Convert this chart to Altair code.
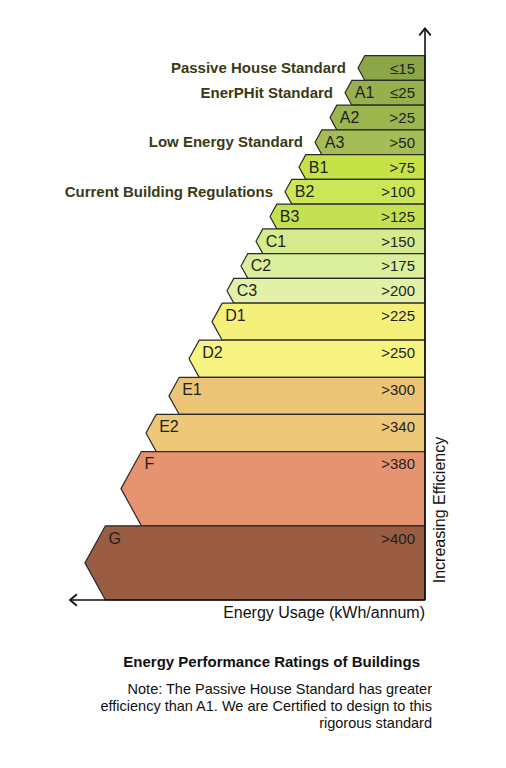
import altair as alt
import pandas as pd

# ---- data ----
bands = ["PH", "A1", "A2", "A3", "B1", "B2", "B3", "C1", "C2", "C3",
         "D1", "D2", "E1", "E2", "F", "G"]
grade_labels = ["", "A1", "A2", "A3", "B1", "B2", "B3", "C1", "C2", "C3",
                "D1", "D2", "E1", "E2", "F", "G"]
value_labels = ["≤15", "≤25", ">25", ">50", ">75", ">100", ">125", ">150",
                ">175", ">200", ">225", ">250", ">300", ">340", ">380", ">400"]
# relative band heights (row units)
band_heights = [1, 1, 1, 1, 1, 1, 1, 1, 1, 1, 1.5, 1.5, 1.5, 1.5, 3, 3]
# length of each arrow (to its tip), in axis length units
band_lengths = [67, 80, 95, 110, 126, 140, 155, 169, 184, 198,
                213, 236, 256, 279, 304, 340]
band_colors = ["#8ca548", "#97b04d", "#9cb54f", "#a4bd54", "#c6e246", "#cbe656",
               "#c5e052", "#d5eb8e", "#dbee9b", "#e3f1a8", "#f5f07a", "#f7f482",
               "#ebc575", "#ecc878", "#e5946f", "#9a5c42"]
annotations = {"PH": "Passive House Standard",
               "A1": "EnerPHit Standard",
               "A3": "Low Energy Standard",
               "B2": "Current Building Regulations"}
note_lines = ["Note: The Passive House Standard has greater",
              "efficiency than A1. We are Certified to design to this",
              "rigorous standard"]
title_text = "Energy Performance Ratings of Buildings"
x_axis_title = "Energy Usage (kWh/annum)"
y_axis_title = "Increasing Efficiency"

X_MAX = 357
Y_MAX = 23.2
W, H = 357, 574
FONT = "Liberation Sans"

# ---- build tables ----
poly_rows, lab_rows, ann_rows = [], [], []
top = 22.0
for i, b in enumerate(bands):
    h = band_heights[i]
    bottom = top - h
    mid = (top + bottom) / 2
    depth = 6.8 * h
    tip = band_lengths[i]
    body = tip - depth
    for xx, y1, y2 in [(0, top, bottom), (body, top, bottom), (tip, mid, mid)]:
        poly_rows.append({"band": b, "x": xx, "y": y1, "y2": y2})
    ly = top - 0.52
    lab_rows.append({"band": b, "value": value_labels[i], "grade": grade_labels[i],
                     "y": ly, "vx": 10, "gx": body - 3})
    if b in annotations:
        ann_rows.append({"text": annotations[b], "y": mid, "x": tip + 12})
    top = bottom

poly = pd.DataFrame(poly_rows)
labs = pd.DataFrame(lab_rows)
anns = pd.DataFrame(ann_rows)

xs = alt.Scale(domain=[0, X_MAX], reverse=True, nice=False, zero=False)
ys = alt.Scale(domain=[0, Y_MAX], nice=False, zero=False)

areas = alt.Chart(poly).mark_area(
    stroke="#2a2a2a", strokeWidth=1.2, opacity=1, fillOpacity=1
).encode(
    x=alt.X("x:Q", scale=xs, axis=None),
    y=alt.Y("y:Q", scale=ys, axis=None, stack=None),
    y2="y2:Q",
    detail="band:N",
    fill=alt.Fill("band:N", scale=alt.Scale(domain=bands, range=band_colors), legend=None),
)

vtext = alt.Chart(labs).mark_text(
    align="right", baseline="middle", font=FONT, fontSize=15, color="#1e1e1e"
).encode(
    x=alt.X("vx:Q", scale=xs, axis=None), y=alt.Y("y:Q", scale=ys, axis=None), text="value:N"
)

gtext = alt.Chart(labs).mark_text(
    align="left", baseline="middle", font=FONT, fontSize=16, color="#1e1e1e"
).encode(
    x=alt.X("gx:Q", scale=xs, axis=None), y=alt.Y("y:Q", scale=ys, axis=None), text="grade:N"
)

atext = alt.Chart(anns).mark_text(
    align="right", baseline="middle", font=FONT, fontSize=15, fontWeight="bold", color="#3a3a14"
).encode(
    x=alt.X("x:Q", scale=xs, axis=None), y=alt.Y("y:Q", scale=ys, axis=None), text="text:N"
)

axes_df = pd.DataFrame([
    {"x": 0, "x2": 0, "y": 0, "y2": 23.1},
    {"x": 0, "x2": 355, "y": 0, "y2": 0},
])
rules = alt.Chart(axes_df).mark_rule(color="#111111", strokeWidth=1.6).encode(
    x=alt.X("x:Q", scale=xs, axis=None), x2="x2:Q",
    y=alt.Y("y:Q", scale=ys, axis=None), y2="y2:Q",
)

heads_left = alt.Chart(pd.DataFrame([{"x": 355, "y": 0}])).mark_point(
    shape="M1.2,-1L0,0L1.2,1", filled=False, stroke="#111111", strokeWidth=1.8, size=130, opacity=1
).encode(x=alt.X("x:Q", scale=xs, axis=None), y=alt.Y("y:Q", scale=ys, axis=None))

heads_up = alt.Chart(pd.DataFrame([{"x": 0, "y": 23.1}])).mark_point(
    shape="M-1,1.2L0,0L1,1.2", filled=False, stroke="#111111", strokeWidth=1.8, size=130, opacity=1
).encode(x=alt.X("x:Q", scale=xs, axis=None), y=alt.Y("y:Q", scale=ys, axis=None))

xtitle = alt.Chart(pd.DataFrame([{"t": x_axis_title}])).mark_text(
    align="right", baseline="middle", font=FONT, fontSize=16, color="#111111"
).encode(x=alt.value(W), y=alt.value(H + 13), text="t:N")

ytitle = alt.Chart(pd.DataFrame([{"t": y_axis_title}])).mark_text(
    align="center", baseline="middle", angle=270, font=FONT, fontSize=16, color="#111111"
).encode(x=alt.value(W + 15), y=alt.value(484), text="t:N")

title = alt.Chart(pd.DataFrame([{"t": title_text}])).mark_text(
    align="right", baseline="middle", font=FONT, fontSize=15, fontWeight="bold", color="#111111"
).encode(x=alt.value(W - 5), y=alt.value(H + 62), text="t:N")

note = alt.Chart(pd.DataFrame([{"t": 0}])).mark_text(
    align="right", baseline="top", font=FONT, fontSize=14.5, lineHeight=17, color="#111111",
    text=note_lines
).encode(x=alt.value(W + 7), y=alt.value(H + 83))

chart = alt.layer(
    areas, vtext, gtext, atext, rules, heads_left, heads_up, xtitle, ytitle, title, note
).properties(
    width=W, height=H,
    autosize=alt.AutoSizeParams(type="none"),
    padding={"left": 60, "top": 18, "right": 73, "bottom": 160},
    background="white",
).configure_view(strokeWidth=0)

chart.save("out.html", embed_options={"renderer": "svg", "actions": False})
